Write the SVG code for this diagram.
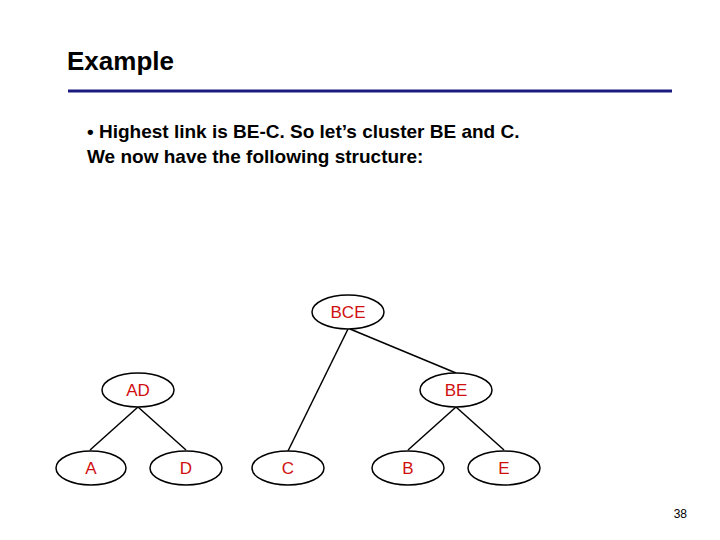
<svg xmlns="http://www.w3.org/2000/svg" width="720" height="540" viewBox="0 0 720 540">
<style>
text{font-family:"Liberation Sans",Arial,sans-serif;font-weight:bold}
.n ellipse{fill:#fff;stroke:#000;stroke-width:1.5}
.n text{fill:#d01010;font-size:17px;text-anchor:middle;font-weight:normal}
.c line{stroke:#000;stroke-width:1.5}
</style>
<rect width="720" height="540" fill="#fff"/>
<text x="67" y="70" font-size="26" fill="#000">Example</text>
<line x1="68" y1="91" x2="672" y2="91" stroke="#1a1a80" stroke-width="3"/>
<text x="87" y="138" font-size="19" fill="#000">• Highest link is BE-C. So let’s cluster BE and C.</text>
<text x="87" y="163" font-size="19" fill="#000">We now have the following structure:</text>
<g class="c">
<line x1="138" y1="407" x2="90" y2="450"/>
<line x1="138" y1="407" x2="186" y2="450"/>
<line x1="348" y1="329" x2="288" y2="451"/>
<line x1="350" y1="329" x2="456" y2="373"/>
<line x1="456" y1="407" x2="408" y2="450"/>
<line x1="456" y1="407" x2="504" y2="450"/>
</g>
<g id="BCE" class="n"><ellipse cx="348" cy="312" rx="36" ry="17"/><text x="348" y="318">BCE</text></g>
<g id="AD" class="n"><ellipse cx="138" cy="390" rx="36" ry="17"/><text x="138" y="396">AD</text></g>
<g id="BE" class="n"><ellipse cx="456" cy="390" rx="36" ry="17"/><text x="456" y="396">BE</text></g>
<g id="A" class="n"><ellipse cx="91" cy="468" rx="35" ry="17"/><text x="91" y="474">A</text></g>
<g id="D" class="n"><ellipse cx="186" cy="468" rx="36" ry="17"/><text x="186" y="474">D</text></g>
<g id="C" class="n"><ellipse cx="288" cy="468" rx="36" ry="17"/><text x="288" y="474">C</text></g>
<g id="B" class="n"><ellipse cx="408" cy="468" rx="36" ry="17"/><text x="408" y="474">B</text></g>
<g id="E" class="n"><ellipse cx="504" cy="468" rx="36" ry="17"/><text x="504" y="474">E</text></g>
<text x="687" y="518" font-size="12" fill="#000" style="font-weight:normal" text-anchor="end">38</text>
</svg>
